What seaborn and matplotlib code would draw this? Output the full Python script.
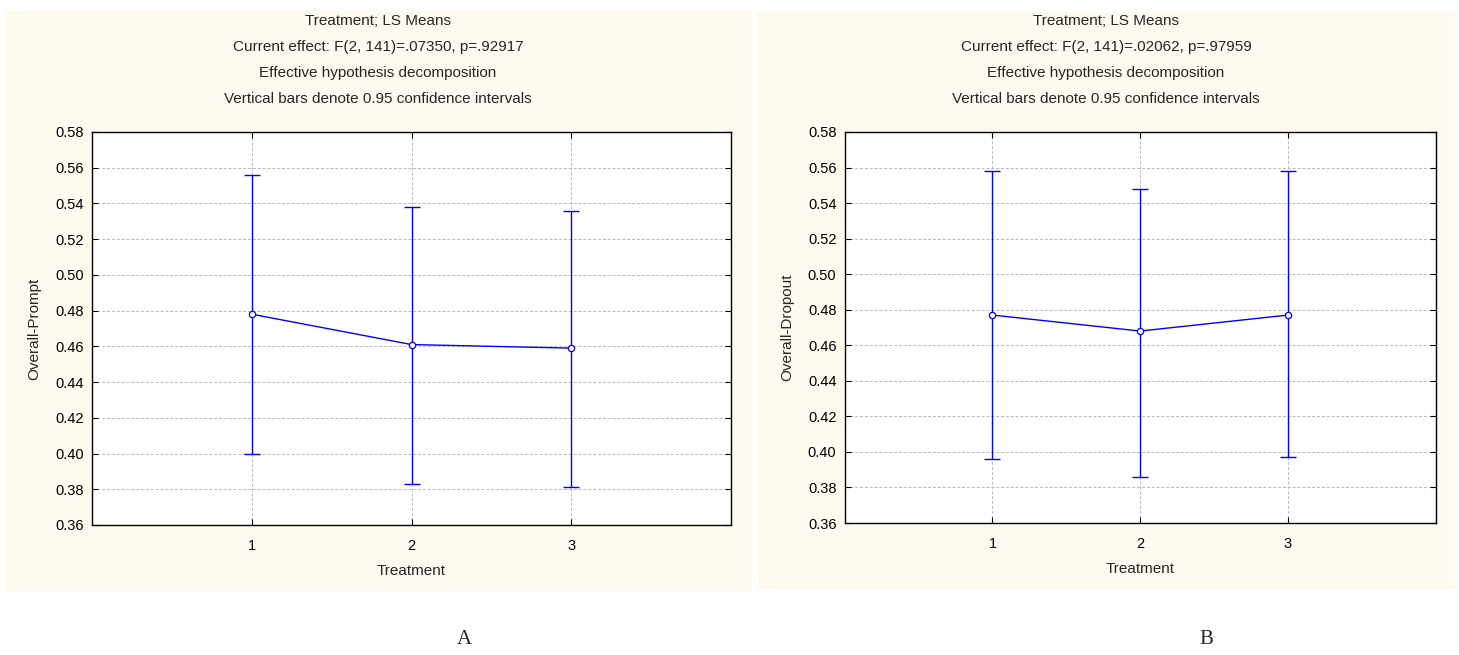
import matplotlib
matplotlib.use("Agg")
import matplotlib.pyplot as plt
import seaborn as sns
import pandas as pd
from matplotlib.patches import Rectangle

# Data
treatment = [1, 2, 3]

prompt_mean = [0.478, 0.461, 0.459]
prompt_low = [0.400, 0.383, 0.381]
prompt_high = [0.556, 0.538, 0.536]

dropout_mean = [0.477, 0.468, 0.477]
dropout_low = [0.396, 0.386, 0.397]
dropout_high = [0.558, 0.548, 0.558]

titles_a = ["Treatment; LS Means",
            "Current effect: F(2, 141)=.07350, p=.92917",
            "Effective hypothesis decomposition",
            "Vertical bars denote 0.95 confidence intervals"]
titles_b = ["Treatment; LS Means",
            "Current effect: F(2, 141)=.02062, p=.97959",
            "Effective hypothesis decomposition",
            "Vertical bars denote 0.95 confidence intervals"]

sns.set_style("white")
plt.rcParams['font.family'] = ['Liberation Sans', 'DejaVu Sans']

fig = plt.figure(figsize=(14.59, 6.55), dpi=100)

# cream panel backgrounds (behind the axes)
bg = '#fffaf0'
fig.patches.append(Rectangle((0.0034, 0.096), 0.512, 0.889, transform=fig.transFigure,
                             facecolor=bg, edgecolor='none', zorder=-5))
fig.patches.append(Rectangle((0.519, 0.099), 0.478, 0.883, transform=fig.transFigure,
                             facecolor=bg, edgecolor='none', zorder=-5))

ax1 = fig.add_axes([0.0631, 0.1985, 0.438, 0.600])
ax2 = fig.add_axes([0.579, 0.2015, 0.405, 0.597])


def draw_panel(ax, mean, low, high, ylabel):
    df = pd.DataFrame({'Treatment': treatment, 'mean': mean})
    err_lo = [m - l for m, l in zip(mean, low)]
    err_hi = [h - m for m, h in zip(mean, high)]
    ax.errorbar(treatment, mean, yerr=[err_lo, err_hi], fmt='none', ecolor='#0000ff',
                elinewidth=1.0, capsize=6, capthick=1.0, zorder=3)
    sns.lineplot(data=df, x='Treatment', y='mean', ax=ax, color='#0000ff', linewidth=1.0,
                 marker='o', markersize=4.5, markerfacecolor='white',
                 markeredgecolor='#0000ff', markeredgewidth=0.9, zorder=4)
    ax.set_xlim(0, 4)
    ax.set_ylim(0.36, 0.58)
    ax.set_xticks(treatment)
    ax.set_yticks([0.36 + 0.02 * i for i in range(12)])
    ax.set_yticklabels([f"{0.36 + 0.02 * i:.2f}" for i in range(12)])
    ax.grid(True, color='#b8b8b8', linestyle='--', linewidth=0.7, dashes=(3, 2))
    ax.set_axisbelow(True)
    ax.set_facecolor('white')
    for s in ax.spines.values():
        s.set_color('black')
        s.set_linewidth(1.0)
    ax.tick_params(axis='both', direction='in', length=4, width=0.8, labelsize=10.5,
                   top=True, right=True, left=True, bottom=True, colors='black')
    ax.tick_params(axis='y', pad=6)
    ax.tick_params(axis='x', pad=10)
    ax.set_xlabel('Treatment', fontsize=11, labelpad=8)
    ax.set_ylabel(ylabel, fontsize=11, labelpad=10)


draw_panel(ax1, prompt_mean, prompt_low, prompt_high, 'Overall-Prompt')
draw_panel(ax2, dropout_mean, dropout_low, dropout_high, 'Overall-Dropout')

# stacked titles
for lines, xc in [(titles_a, 0.259), (titles_b, 0.758)]:
    for i, t in enumerate(lines):
        fig.text(xc, 1 - (21 + 26 * i) / 655, t, ha='center', va='center', fontsize=11)

fig.text(464 / 1459, 1 - 640 / 655, 'A', ha='center', va='center', fontsize=15,
         family='Liberation Serif')
fig.text(1206 / 1459, 1 - 640 / 655, 'B', ha='center', va='center', fontsize=15,
         family='Liberation Serif')

fig.savefig('out.png', dpi=100)
